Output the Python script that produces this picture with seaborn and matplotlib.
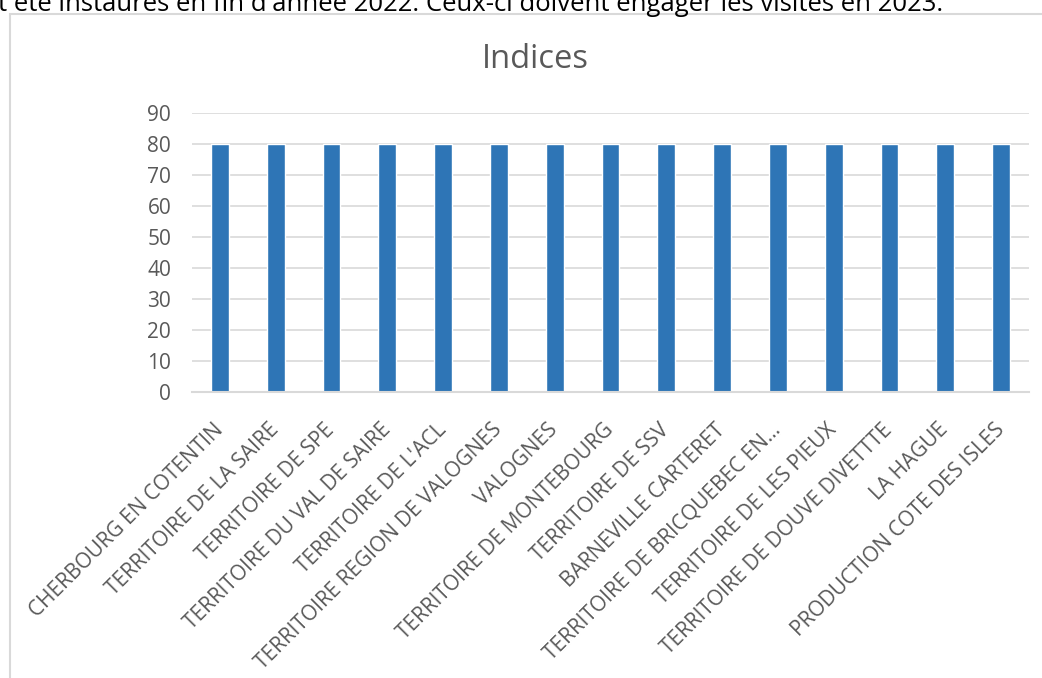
import matplotlib
matplotlib.use("Agg")
import matplotlib.pyplot as plt
import seaborn as sns
import pandas as pd
from matplotlib.patches import Rectangle

categories = [
    "CHERBOURG EN COTENTIN",
    "TERRITOIRE DE LA SAIRE",
    "TERRITOIRE DE SPE",
    "TERRITOIRE DU VAL DE SAIRE",
    "TERRITOIRE DE L'ACL",
    "TERRITOIRE REGION DE VALOGNES",
    "VALOGNES",
    "TERRITOIRE DE MONTEBOURG",
    "TERRITOIRE DE SSV",
    "BARNEVILLE CARTERET",
    "TERRITOIRE DE BRICQUEBEC EN…",
    "TERRITOIRE DE LES PIEUX",
    "TERRITOIRE DE DOUVE DIVETTTE",
    "LA HAGUE",
    "PRODUCTION COTE DES ISLES",
]
values = [80] * 15
yticks = [0, 10, 20, 30, 40, 50, 60, 70, 80, 90]
title = "Indices"
doc_text = "t été instaurés en fin d'année 2022. Ceux-ci doivent engager les visites en 2023."

sns.set_theme(style="white")
plt.rcParams["font.family"] = ["Open Sans", "DejaVu Sans"]

W, H = 1042, 678
fig = plt.figure(figsize=(W / 100, H / 100), dpi=100)
ax = fig.add_axes([192 / W, 1 - 392 / H, (1029 - 192) / W, (392 - 113) / H])

df = pd.DataFrame({"cat": categories, "val": values})
sns.barplot(data=df, x="cat", y="val", color="#2E75B6", saturation=1, width=0.32, ax=ax)

ax.set_ylim(0, 90)
ax.set_yticks(yticks)
ax.set_xlim(-0.5, len(categories) - 0.5)
ax.yaxis.grid(True, color="#d9d9d9", linewidth=1.2)
ax.set_axisbelow(True)
for s in ["top", "right", "left"]:
    ax.spines[s].set_visible(False)
ax.spines["bottom"].set_color("#d9d9d9")
ax.spines["bottom"].set_linewidth(1.5)
ax.set_xlabel("")
ax.set_ylabel("")
ax.tick_params(axis="both", length=0, colors="#595959", labelsize=15)
ax.tick_params(axis="y", pad=15)
ax.set_xticks(range(len(categories)))
ax.set_xticklabels(categories, rotation=45, ha="right", va="center", rotation_mode="anchor")
ax.tick_params(axis="x", pad=25)
for lab in ax.get_xticklabels():
    lab.set_color("#595959")

fig.text(535 / W, 1 - 60 / H, title, ha="center", va="center", fontsize=23.5, color="#595959")
fig.text(-2 / W, 1 - 11 / H, doc_text, ha="left", va="baseline", fontsize=18.5, color="#000000")

fig.patches.append(Rectangle((10 / W, -0.05), 1.2, 1.05 - 14 / H, transform=fig.transFigure,
                             fill=False, edgecolor="#d9d9d9", linewidth=1.5))

fig.savefig("out.png", dpi=100)
